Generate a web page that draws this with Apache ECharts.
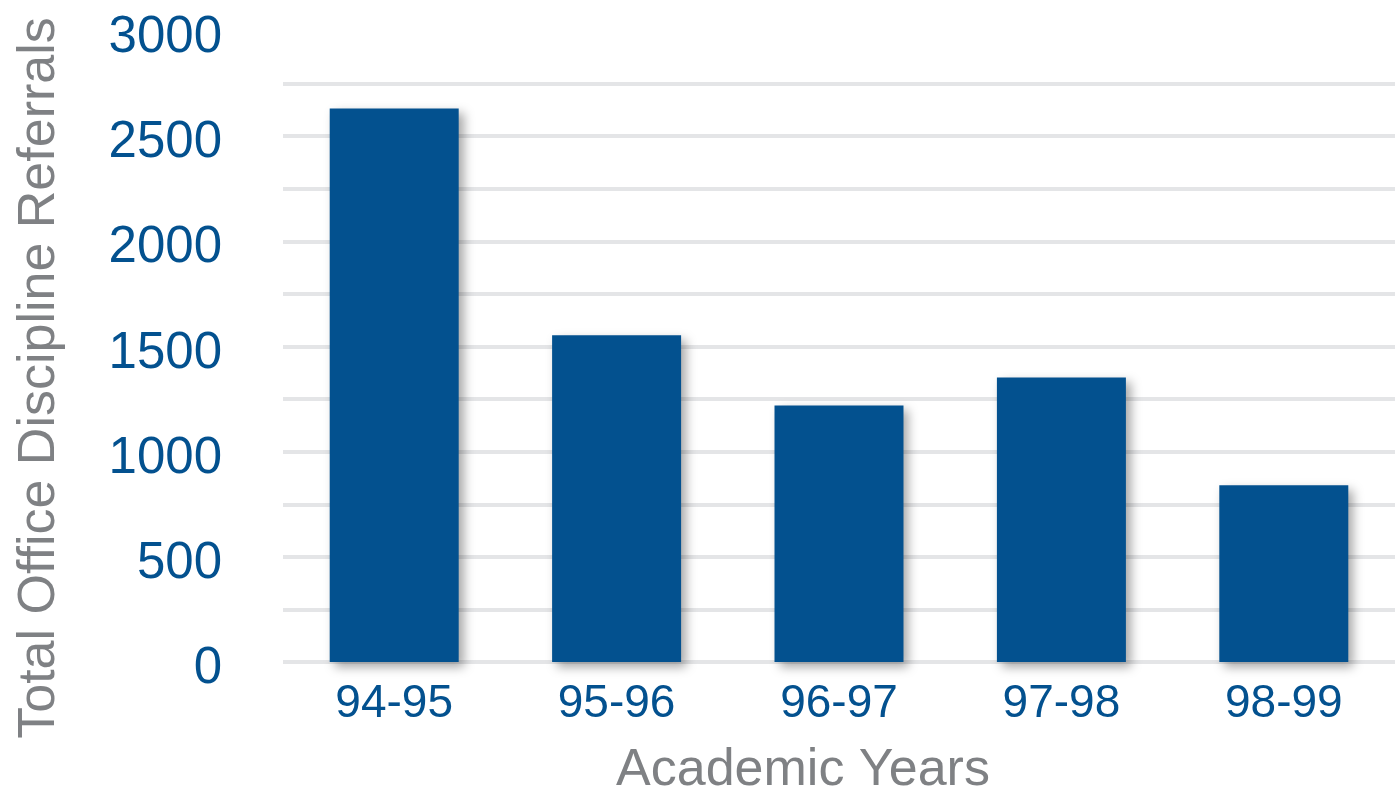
<!DOCTYPE html>
<html lang="en">

<head>
    <meta charset="UTF-8">
    <title>Office Discipline Referrals</title>
    <script src="https://cdn.jsdelivr.net/npm/echarts@6/dist/echarts.min.js"></script>
    <style>
        html, body {
            margin: 0;
            padding: 0;
            background: #fff;
        }
    </style>
</head>

<body>
    <div id="chart" style="width:1395px;height:792px;"></div>
    <script>
        const years = ['94-95', '95-96', '96-97', '97-98', '98-99'];
        const referrals = [2632, 1553, 1220, 1353, 840];
        const yMin = 0;
        const yMax = 3000;
        const gridStep = 250;
        const labelStep = 500;

        const blue = '#03518f';
        const grey = '#7f8184';
        const font = '"Liberation Sans", Arial, sans-serif';

        let chart = echarts.init(document.getElementById('chart'));
        let option = {
            animation: false,
            grid: {
                left: 283,
                right: -2,
                top: 31,
                bottom: 130
            },
            xAxis: {
                type: 'category',
                data: years,
                axisLine: { show: false },
                axisTick: { show: false },
                axisLabel: {
                    color: blue,
                    fontSize: 46,
                    fontFamily: font,
                    margin: 19
                }
            },
            yAxis: {
                type: 'value',
                min: yMin,
                max: yMax,
                interval: gridStep,
                axisLine: { show: false },
                axisTick: { show: false },
                axisLabel: {
                    margin: 61,
                    formatter: v => (v % labelStep === 0 ? '{n|' + v + '}' : ''),
                    rich: {
                        n: {
                            color: blue,
                            fontSize: 51,
                            fontFamily: font,
                            padding: [14, 0, 0, 0]
                        }
                    }
                },
                splitLine: {
                    showMaxLine: false,
                    lineStyle: { color: '#e4e5e7', width: 4 }
                }
            },
            graphic: [{
                type: 'text',
                x: 40,
                y: 378,
                rotation: Math.PI / 2,
                style: {
                    text: 'Total Office Discipline Referrals',
                    fill: grey,
                    fontSize: 52,
                    fontFamily: font,
                    textAlign: 'center',
                    textVerticalAlign: 'middle'
                }
            }, {
                type: 'text',
                x: 803,
                y: 771,
                style: {
                    text: 'Academic Years',
                    fill: grey,
                    fontSize: 52,
                    fontFamily: font,
                    textAlign: 'center',
                    textVerticalAlign: 'middle'
                }
            }],
            series: [{
                type: 'bar',
                data: referrals,
                barWidth: '58%',
                itemStyle: {
                    color: blue,
                    shadowColor: 'rgba(0, 0, 0, 0.35)',
                    shadowBlur: 10,
                    shadowOffsetX: 5,
                    shadowOffsetY: 5
                }
            }]
        };
        chart.setOption(option);
    </script>
</body>

</html>
